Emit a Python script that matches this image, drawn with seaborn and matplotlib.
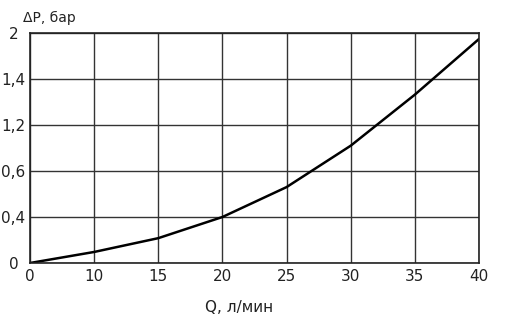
import matplotlib
matplotlib.use("Agg")
import matplotlib.pyplot as plt
import seaborn as sns
import pandas as pd

# Axis grid positions and their printed labels (as shown on the chart)
x_tick_labels = ["0", "10", "15", "20", "25", "30", "35", "40"]
y_tick_labels = ["0", "0,4", "0,6", "1,2", "1,4", "2"]

# Curve, in grid-position units
curve_x = [0, 1, 2, 3, 4, 5, 6, 7]
curve_y = [0.0, 0.24, 0.54, 1.0, 1.65, 2.55, 3.66, 4.87]

sns.set_theme(style="white")
plt.rcParams['font.family'] = ['DejaVu Sans']

fig = plt.figure(figsize=(5.06, 3.21), dpi=100)
ax = fig.add_axes([30/506, 1-263/321, (479-30)/506, (263-33)/321])

df = pd.DataFrame({"x": curve_x, "y": curve_y})
sns.lineplot(data=df, x="x", y="y", ax=ax, color="black", linewidth=1.8)

ax.set_xlim(0, len(x_tick_labels) - 1)
ax.set_ylim(0, len(y_tick_labels) - 1)
ax.set_xticks(range(len(x_tick_labels)))
ax.set_xticklabels(x_tick_labels, fontsize=11)
ax.set_yticks(range(len(y_tick_labels)))
ax.set_yticklabels(y_tick_labels, fontsize=11, ha="center")
ax.tick_params(axis="x", length=0, pad=4, colors="#222222")
ax.tick_params(axis="y", length=0, pad=12, colors="#222222")
ax.grid(True, color="#333333", linewidth=1.0)
for s in ax.spines.values():
    s.set_color("#222222")
    s.set_linewidth(1.2)
ax.set_xlabel("")
ax.set_ylabel("")

fig.text(23/506, 1-18/321, "ΔP, бар", fontsize=10, ha="left", va="center", color="#222222")
fig.text(239/506, 1-307/321, "Q, л/мин", fontsize=11, ha="center", va="center", color="#222222")

fig.savefig("out.png", dpi=100)
